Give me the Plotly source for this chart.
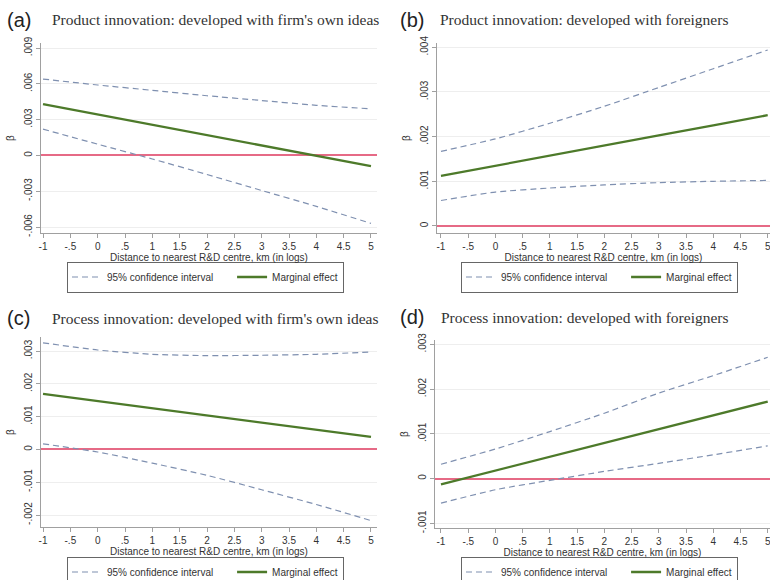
import plotly.graph_objects as go

# ---------------- data ----------------
x_vals = [-1, 0, 1, 2, 3, 4, 5]

upper_a = [0.0064, 0.0059, 0.00545, 0.0050, 0.0046, 0.0042, 0.0039]
me_a = [0.0043, 0.00343, 0.00257, 0.0017, 0.00083, -0.00003, -0.0009]
lower_a = [0.0022, 0.00094, -0.0003, -0.0016, -0.00294, -0.00427, -0.0057]

upper_b = [0.00167, 0.00195, 0.00230, 0.00268, 0.00310, 0.00352, 0.00394]
me_b = [0.00112, 0.00135, 0.00157, 0.00180, 0.00203, 0.00225, 0.00248]
lower_b = [0.00057, 0.00076, 0.00085, 0.00092, 0.00097, 0.00100, 0.00102]

upper_c = [0.00325, 0.00303, 0.00290, 0.00286, 0.00287, 0.00290, 0.00297]
me_c = [0.00169, 0.00147, 0.00125, 0.00104, 0.00082, 0.00060, 0.00038]
lower_c = [0.00017, -0.00008, -0.00042, -0.00079, -0.00123, -0.00168, -0.00217]

upper_d = [0.00032, 0.00066, 0.00105, 0.00146, 0.00191, 0.00230, 0.00271]
me_d = [-0.00013, 0.00018, 0.00049, 0.00080, 0.00110, 0.00141, 0.00172]
lower_d = [-0.00055, -0.00025, -0.00004, 0.00016, 0.00034, 0.00053, 0.00073]

x_tickvals = [-1, -0.5, 0, 0.5, 1, 1.5, 2, 2.5, 3, 3.5, 4, 4.5, 5]
x_ticktext = ["-1", "-.5", "0", ".5", "1", "1.5", "2", "2.5", "3", "3.5", "4", "4.5", "5"]

y_tickvals_a = [-0.006, -0.003, 0, 0.003, 0.006, 0.009]
y_ticktext_a = ["-.006", "-.003", "0", ".003", ".006", ".009"]
y_tickvals_b = [0, 0.001, 0.002, 0.003, 0.004]
y_ticktext_b = ["0", ".001", ".002", ".003", ".004"]
y_tickvals_c = [-0.002, -0.001, 0, 0.001, 0.002, 0.003]
y_ticktext_c = ["-.002", "-.001", "0", ".001", ".002", ".003"]
y_tickvals_d = [-0.001, 0, 0.001, 0.002, 0.003]
y_ticktext_d = ["-.001", "0", ".001", ".002", ".003"]

panel_letters = ["(a)", "(b)", "(c)", "(d)"]
panel_titles = [
    "Product innovation: developed with firm's own ideas",
    "Product innovation: developed with foreigners",
    "Process innovation: developed with firm's own ideas",
    "Process innovation: developed with foreigners",
]
x_title = "Distance to nearest R&D centre, km (in logs)"
ci_name = "95% confidence interval"
me_name = "Marginal effect"

# ---------------- style / layout ----------------
W, H = 770, 580
CI_COLOR = "#7f90b0"
ME_COLOR = "#4d7a2a"
ZERO_COLOR = "#e66a86"
AX_COLOR = "#a0a0a0"
GRID_COLOR = "#eeeeee"
SANS = "Liberation Sans, Arial, sans-serif"
SERIF = "Liberation Serif, Times New Roman, serif"
PAD = "\u00a0" * 5  # extra spacing after the first legend entry


def px_x(p):
    return p / W


def px_y(p):
    return 1 - p / H


panels = [
    dict(upper=upper_a, me=me_a, lower=lower_a,
         dom_x=(41, 377), dom_y=(43, 233), xr=(-1.037, 5.11), yr=(-0.006503, 0.009419),
         ytv=y_tickvals_a, ytt=y_ticktext_a,
         letter_pos=(5, 20), title_pos=(50, 20), legend_pos=(67, 277)),
    dict(upper=upper_b, me=me_b, lower=lower_b,
         dom_x=(437, 770), dom_y=(43, 233), xr=(-1.073, 5.042), yr=(-0.000157, 0.004096),
         ytv=y_tickvals_b, ytt=y_ticktext_b,
         letter_pos=(398, 20), title_pos=(438, 20), legend_pos=(461, 277)),
    dict(upper=upper_c, me=me_c, lower=lower_c,
         dom_x=(41, 377), dom_y=(337, 527), xr=(-1.037, 5.11), yr=(-0.002366, 0.003427),
         ytv=y_tickvals_c, ytt=y_ticktext_c,
         letter_pos=(5, 318), title_pos=(50, 318), legend_pos=(67, 572)),
    dict(upper=upper_d, me=me_d, lower=lower_d,
         dom_x=(435, 770), dom_y=(340, 528), xr=(-1.110, 5.042), yr=(-0.001105, 0.003096),
         ytv=y_tickvals_d, ytt=y_ticktext_d,
         letter_pos=(398, 317), title_pos=(439, 317), legend_pos=(461, 572)),
]

fig = go.Figure()
layout = dict(
    width=W, height=H,
    margin=dict(l=0, r=0, t=0, b=0, autoexpand=False),
    paper_bgcolor="white", plot_bgcolor="white",
    font=dict(family=SANS, size=10, color="#333333"),
    showlegend=True,
    annotations=[],
)

for i, p in enumerate(panels):
    n = i + 1
    xa = "x" if n == 1 else f"x{n}"
    ya = "y" if n == 1 else f"y{n}"
    lg = "legend" if n == 1 else f"legend{n}"
    xkey = "xaxis" if n == 1 else f"xaxis{n}"
    ykey = "yaxis" if n == 1 else f"yaxis{n}"

    fig.add_trace(go.Scatter(x=x_vals, y=p["upper"], mode="lines", name=ci_name + PAD,
                             line=dict(color=CI_COLOR, width=1.2, dash="6px,4px", shape="spline", smoothing=0.6),
                             xaxis=xa, yaxis=ya, legend=lg, legendgroup=f"ci{n}", showlegend=True))
    fig.add_trace(go.Scatter(x=x_vals, y=p["lower"], mode="lines", name=ci_name,
                             line=dict(color=CI_COLOR, width=1.2, dash="6px,4px", shape="spline", smoothing=0.6),
                             xaxis=xa, yaxis=ya, legend=lg, legendgroup=f"ci{n}", showlegend=False))
    fig.add_trace(go.Scatter(x=x_vals, y=p["me"], mode="lines", name=me_name,
                             line=dict(color=ME_COLOR, width=2.3),
                             xaxis=xa, yaxis=ya, legend=lg, showlegend=True))

    layout[xkey] = dict(
        domain=[px_x(p["dom_x"][0]), px_x(p["dom_x"][1])],
        range=list(p["xr"]), anchor=ya,
        tickmode="array", tickvals=x_tickvals, ticktext=x_ticktext,
        ticks="outside", ticklen=4, tickcolor=AX_COLOR, tickwidth=1,
        ticklabeloverflow="allow",
        showline=True, linecolor=AX_COLOR, linewidth=1,
        showgrid=False, zeroline=False,
        tickfont=dict(family=SANS, size=10, color="#333333"),
        title=dict(text=x_title, font=dict(family=SANS, size=10, color="#333333"), standoff=2),
        fixedrange=True,
    )
    layout[ykey] = dict(
        domain=[px_y(p["dom_y"][1]), px_y(p["dom_y"][0])],
        range=list(p["yr"]), anchor=xa,
        tickmode="array", tickvals=p["ytv"], ticktext=p["ytt"], tickangle=-90,
        ticks="outside", ticklen=4, tickcolor=AX_COLOR, tickwidth=1,
        showline=True, linecolor=AX_COLOR, linewidth=1,
        showgrid=True, gridcolor=GRID_COLOR, gridwidth=1,
        zeroline=True, zerolinecolor=ZERO_COLOR, zerolinewidth=1.5,
        tickfont=dict(family=SANS, size=10, color="#333333"),
        title=dict(text="β", font=dict(family=SANS, size=10, color="#333333"), standoff=6),
        fixedrange=True,
    )
    layout[lg] = dict(
        orientation="h", xref="paper", yref="paper",
        x=px_x(p["legend_pos"][0]), y=px_y(p["legend_pos"][1]),
        xanchor="left", yanchor="middle",
        bordercolor="#666666", borderwidth=1, bgcolor="white",
        font=dict(family=SANS, size=10, color="#333333"),
        itemwidth=30, tracegroupgap=0,
    )
    layout["annotations"].append(dict(text=panel_letters[i], xref="paper", yref="paper",
                                      x=px_x(p["letter_pos"][0]), y=px_y(p["letter_pos"][1]),
                                      xanchor="left", yanchor="middle", showarrow=False,
                                      font=dict(family=SANS, size=20, color="#222222")))
    layout["annotations"].append(dict(text=panel_titles[i], xref="paper", yref="paper",
                                      x=px_x(p["title_pos"][0]), y=px_y(p["title_pos"][1]),
                                      xanchor="left", yanchor="middle", showarrow=False,
                                      font=dict(family=SERIF, size=15.5, color="#333333")))

fig.update_layout(**layout)
fig.write_html("out.html", config={"displayModeBar": False},
               post_script="document.body.style.margin='0';document.body.style.overflow='hidden';")
